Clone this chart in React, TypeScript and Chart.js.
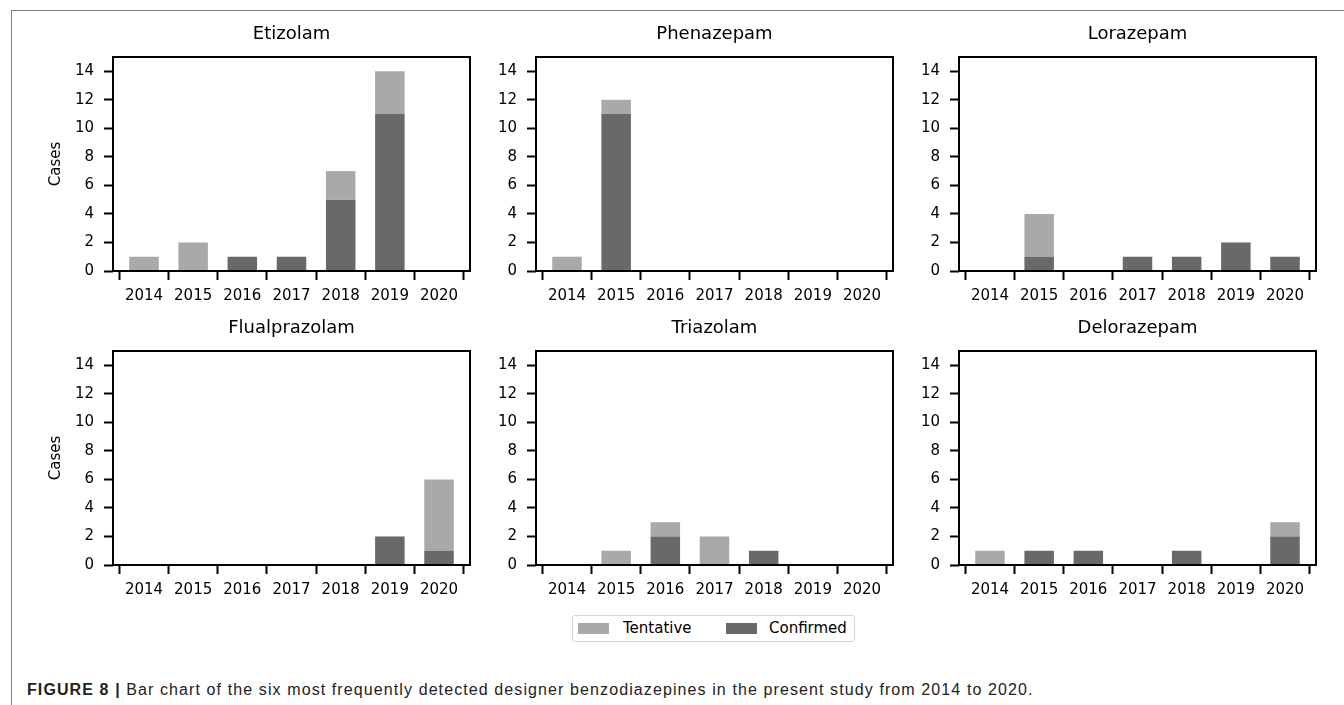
import React, { useEffect, useRef } from "react";
import { Chart, registerables } from "chart.js";

Chart.register(...registerables);
Chart.defaults.font.family = "'DejaVu Sans', sans-serif";

// ---- data ----
const YEARS = ["2014", "2015", "2016", "2017", "2018", "2019", "2020"];
const Y_TICKS = [0, 2, 4, 6, 8, 10, 12, 14];
const SERIES_NAMES = ["Tentative", "Confirmed"];

const ETIZOLAM_CONFIRMED = [0, 0, 1, 1, 5, 11, 0];
const ETIZOLAM_TENTATIVE = [1, 2, 0, 0, 2, 3, 0];
const PHENAZEPAM_CONFIRMED = [0, 11, 0, 0, 0, 0, 0];
const PHENAZEPAM_TENTATIVE = [1, 1, 0, 0, 0, 0, 0];
const LORAZEPAM_CONFIRMED = [0, 1, 0, 1, 1, 2, 1];
const LORAZEPAM_TENTATIVE = [0, 3, 0, 0, 0, 0, 0];
const FLUALPRAZOLAM_CONFIRMED = [0, 0, 0, 0, 0, 2, 1];
const FLUALPRAZOLAM_TENTATIVE = [0, 0, 0, 0, 0, 0, 5];
const TRIAZOLAM_CONFIRMED = [0, 0, 2, 0, 1, 0, 0];
const TRIAZOLAM_TENTATIVE = [0, 1, 1, 2, 0, 0, 0];
const DELORAZEPAM_CONFIRMED = [0, 1, 1, 0, 1, 0, 2];
const DELORAZEPAM_TENTATIVE = [1, 0, 0, 0, 0, 0, 1];

const CAPTION_BOLD = "FIGURE 8 |";
const CAPTION_TEXT =
  " Bar chart of the six most frequently detected designer benzodiazepines in the present study from 2014 to 2020.";

// ---- styling / layout ----
const COLOR_TENTATIVE = "#a9a9a9";
const COLOR_CONFIRMED = "#696969";
const PLOT_W = 357;
const PLOT_H = 214;
const Y_AXIS_W = 83;
const TOP_SPACE = 47;
const X_AXIS_H = 40;
const RIGHT_PAD = 10;
const COL_LEFT = [113, 536, 959];
const ROW_TOP = [57, 351];

const boxPlugin = {
  id: "plotBox",
  afterDatasetsDraw(chart: any) {
    const { ctx, chartArea } = chart;
    ctx.save();
    ctx.strokeStyle = "#000";
    ctx.lineWidth = 2;
    ctx.strokeRect(
      chartArea.left,
      chartArea.top,
      chartArea.right - chartArea.left,
      chartArea.bottom - chartArea.top
    );
    ctx.restore();
  },
};

type PanelProps = {
  title: string;
  confirmed: number[];
  tentative: number[];
  col: number;
  row: number;
};

function Panel({ title, confirmed, tentative, col, row }: PanelProps) {
  const ref = useRef<HTMLCanvasElement | null>(null);
  const width = Y_AXIS_W + PLOT_W + RIGHT_PAD;
  const height = TOP_SPACE + PLOT_H + X_AXIS_H;
  const left = COL_LEFT[col] - Y_AXIS_W;
  const top = ROW_TOP[row] - TOP_SPACE;

  useEffect(() => {
    if (!ref.current) return;
    const gridOpts = {
      display: true,
      drawOnChartArea: false,
      drawTicks: true,
      tickLength: 9,
      tickWidth: 2,
      tickColor: "#000",
    };
    const chart = new Chart(ref.current, {
      type: "bar",
      data: {
        datasets: [
          {
            label: SERIES_NAMES[1],
            data: confirmed.map((v, i) => ({ x: i, y: v })),
            backgroundColor: COLOR_CONFIRMED,
            borderWidth: 0,
            categoryPercentage: 1,
            barPercentage: 0.6,
          },
          {
            label: SERIES_NAMES[0],
            data: tentative.map((v, i) => ({ x: i, y: v })),
            backgroundColor: COLOR_TENTATIVE,
            borderWidth: 0,
            categoryPercentage: 1,
            barPercentage: 0.6,
          },
        ],
      },
      options: {
        responsive: false,
        animation: false,
        devicePixelRatio: 1,
        layout: { padding: { left: 0, right: RIGHT_PAD, top: 0, bottom: 0 } },
        plugins: {
          legend: { display: false },
          tooltip: { enabled: false },
          title: {
            display: true,
            text: title,
            color: "#000",
            fullSize: false,
            font: { size: 18, weight: "normal" },
            padding: { top: 14, bottom: 11.4 },
          },
        },
        scales: {
          x: {
            type: "linear",
            stacked: true,
            min: -0.63,
            max: 6.63,
            offset: false,
            afterBuildTicks: (s: any) => {
              s.ticks = YEARS.map((_, i) => ({ value: i }));
            },
            afterFit: (s: any) => {
              s.height = X_AXIS_H;
            },
            ticks: {
              autoSkip: false,
              maxRotation: 0,
              minRotation: 0,
              color: "#000",
              font: { size: 15 },
              padding: 7,
              callback: (_v: any, i: number) => YEARS[i],
            },
            grid: gridOpts,
            border: { display: false },
          },
          y: {
            type: "linear",
            stacked: true,
            min: 0,
            max: 15,
            afterBuildTicks: (s: any) => {
              s.ticks = Y_TICKS.map((v) => ({ value: v }));
            },
            afterFit: (s: any) => {
              s.width = Y_AXIS_W;
            },
            ticks: { color: "#000", font: { size: 15 }, padding: 10 },
            grid: gridOpts,
            border: { display: false },
            title: {
              display: col === 0,
              text: "Cases",
              color: "#000",
              font: { size: 15 },
              padding: { top: 16.7, bottom: 0 },
            },
          },
        },
      } as any,
      plugins: [boxPlugin],
    });
    return () => chart.destroy();
  }, [title, confirmed, tentative, col]);

  return (
    <canvas
      ref={ref}
      width={width}
      height={height}
      style={{ position: "absolute", left, top, width, height }}
    />
  );
}

const legendText: React.CSSProperties = {
  position: "absolute",
  fontFamily: "'DejaVu Sans', sans-serif",
  fontSize: 15,
  lineHeight: "18px",
  top: 619,
  color: "#000",
  whiteSpace: "nowrap",
};

export default function App() {
  return (
    <div
      style={{
        position: "absolute",
        left: 0,
        top: 0,
        width: 1344,
        height: 705,
        background: "#fff",
        overflow: "hidden",
      }}
    >
      <div
        style={{
          position: "absolute",
          left: 11,
          top: 10,
          width: 1340,
          height: 700,
          borderTop: "1.5px solid #808080",
          borderLeft: "1.5px solid #808080",
        }}
      />
      <Panel title="Etizolam" confirmed={ETIZOLAM_CONFIRMED} tentative={ETIZOLAM_TENTATIVE} col={0} row={0} />
      <Panel title="Phenazepam" confirmed={PHENAZEPAM_CONFIRMED} tentative={PHENAZEPAM_TENTATIVE} col={1} row={0} />
      <Panel title="Lorazepam" confirmed={LORAZEPAM_CONFIRMED} tentative={LORAZEPAM_TENTATIVE} col={2} row={0} />
      <Panel title="Flualprazolam" confirmed={FLUALPRAZOLAM_CONFIRMED} tentative={FLUALPRAZOLAM_TENTATIVE} col={0} row={1} />
      <Panel title="Triazolam" confirmed={TRIAZOLAM_CONFIRMED} tentative={TRIAZOLAM_TENTATIVE} col={1} row={1} />
      <Panel title="Delorazepam" confirmed={DELORAZEPAM_CONFIRMED} tentative={DELORAZEPAM_TENTATIVE} col={2} row={1} />

      {/* legend */}
      <div
        style={{
          position: "absolute",
          left: 572,
          top: 615,
          width: 281,
          height: 25,
          border: "1.5px solid #d4d4d4",
          borderRadius: 3,
          background: "#fff",
        }}
      />
      <div style={{ position: "absolute", left: 578, top: 623, width: 31, height: 10.5, background: COLOR_TENTATIVE }} />
      <div style={{ ...legendText, left: 623 }}>{SERIES_NAMES[0]}</div>
      <div style={{ position: "absolute", left: 726, top: 623, width: 31, height: 10.5, background: COLOR_CONFIRMED }} />
      <div style={{ ...legendText, left: 769 }}>{SERIES_NAMES[1]}</div>

      {/* caption */}
      <div
        style={{
          position: "absolute",
          left: 27,
          top: 681,
          fontFamily: "'Liberation Sans', Arial, sans-serif",
          fontSize: 16,
          letterSpacing: 1.1,
          color: "#222",
          whiteSpace: "nowrap",
        }}
      >
        <b>{CAPTION_BOLD}</b>
        {CAPTION_TEXT}
      </div>
    </div>
  );
}
